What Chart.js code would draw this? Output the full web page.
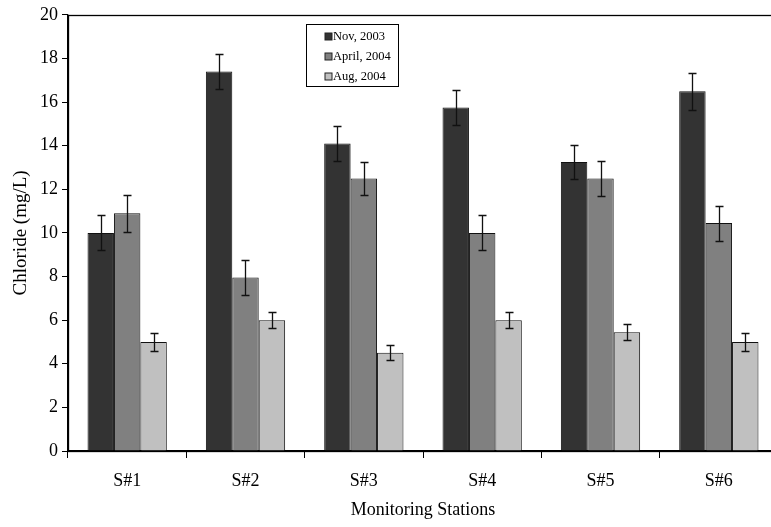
<!DOCTYPE html>
<html>
<head>
<meta charset="utf-8">
<script src="https://cdn.jsdelivr.net/npm/chart.js@4/dist/chart.umd.min.js"></script>
<style>
  html, body { margin: 0; padding: 0; background: #fff; overflow: hidden; }
  #wrap { position: relative; width: 790px; height: 527px; }
</style>
</head>
<body>
<div id="wrap"><canvas id="c" width="790" height="527"></canvas></div>
<script>
// Monitoring stations and sampling campaigns
const stations = ['S#1', 'S#2', 'S#3', 'S#4', 'S#5', 'S#6'];
const campaigns = ['Nov, 2003', 'April, 2004', 'Aug, 2004'];

// Mean chloride concentration (mg/L) per station
const nov2003 = [10.0, 17.4, 14.1, 15.75, 13.25, 16.5];
const apr2004 = [10.9, 7.95, 12.5, 10.0, 12.5, 10.45];
const aug2004 = [5.0, 6.0, 4.5, 6.0, 5.45, 5.0];

// Error bar half-widths (mg/L)
const nov2003Err = [0.8, 0.8, 0.8, 0.8, 0.8, 0.85];
const apr2004Err = [0.85, 0.8, 0.75, 0.8, 0.8, 0.8];
const aug2004Err = [0.4, 0.38, 0.35, 0.38, 0.37, 0.4];

// Y axis ticks
const yTicks = [0, 2, 4, 6, 8, 10, 12, 14, 16, 18, 20];

const fills = ['#333333', '#808080', '#c0c0c0'];
const serif = '"Liberation Serif", "Times New Roman", serif';

const errorBars = {
  id: 'errorBars',
  afterDatasetsDraw(chart) {
    const ctx = chart.ctx;
    const y = chart.scales.y;
    ctx.save();
    ctx.strokeStyle = '#111';
    ctx.lineWidth = 1.3;
    chart.data.datasets.forEach((ds, i) => {
      const meta = chart.getDatasetMeta(i);
      meta.data.forEach((bar, j) => {
        const v = ds.data[j], e = ds.errors[j];
        const yt = Math.round(y.getPixelForValue(v + e)) + 0.5;
        const yb = Math.round(y.getPixelForValue(v - e)) + 0.5;
        const x = Math.round(bar.x) + 0.5;
        ctx.beginPath();
        ctx.moveTo(x, yt); ctx.lineTo(x, yb);
        ctx.moveTo(x - 4, yt); ctx.lineTo(x + 4, yt);
        ctx.moveTo(x - 4, yb); ctx.lineTo(x + 4, yb);
        ctx.stroke();
      });
    });
    ctx.restore();
  }
};

const frame = {
  id: 'frame',
  afterDraw(chart) {
    const a = chart.chartArea, ctx = chart.ctx;
    ctx.save();
    ctx.strokeStyle = '#000';
    ctx.lineWidth = 1.3;
    ctx.strokeRect(Math.round(a.left) + 0.5, Math.round(a.top) + 0.5,
                   Math.round(a.right - a.left), Math.round(a.bottom - a.top));
    ctx.restore();
  }
};

const boxLegend = {
  id: 'boxLegend',
  afterDraw(chart) {
    const ctx = chart.ctx;
    const x0 = 306.5, y0 = 24.5, w = 92, h = 62;
    ctx.save();
    ctx.fillStyle = '#fff';
    ctx.fillRect(x0, y0, w, h);
    ctx.strokeStyle = '#000';
    ctx.lineWidth = 1;
    ctx.strokeRect(x0, y0, w, h);
    ctx.font = '12.5px ' + serif;
    ctx.textBaseline = 'middle';
    chart.data.datasets.forEach((ds, i) => {
      const cy = y0 + 12 + i * 20;
      ctx.fillStyle = ds.backgroundColor;
      ctx.fillRect(x0 + 18.5, cy - 3.5, 7, 7);
      ctx.strokeStyle = '#222';
      ctx.strokeRect(x0 + 18.5, cy - 3.5, 7, 7);
      ctx.fillStyle = '#000';
      ctx.fillText(ds.label, x0 + 26.5, cy + 0.5);
    });
    ctx.restore();
  }
};

new Chart(document.getElementById('c'), {
  type: 'bar',
  data: {
    labels: stations,
    datasets: [
      { label: campaigns[0], data: nov2003, errors: nov2003Err, backgroundColor: fills[0] },
      { label: campaigns[1], data: apr2004, errors: apr2004Err, backgroundColor: fills[1] },
      { label: campaigns[2], data: aug2004, errors: aug2004Err, backgroundColor: fills[2] }
    ].map(d => Object.assign(d, {
      borderColor: '#111', borderWidth: 1, categoryPercentage: 0.67, barPercentage: 1.0
    }))
  },
  options: {
    responsive: false,
    animation: false,
    devicePixelRatio: 1,
    layout: { padding: { top: 12, right: 12, left: 0, bottom: 0 } },
    plugins: { legend: { display: false }, tooltip: { enabled: false } },
    scales: {
      x: {
        offset: true,
        grid: { offset: true, drawOnChartArea: false, drawTicks: true, tickLength: 7, color: '#000', lineWidth: 1 },
        border: { color: '#000', width: 1.3 },
        ticks: { color: '#000', font: { family: serif, size: 18 }, padding: 12 },
        title: { display: true, text: 'Monitoring Stations', color: '#000',
                 font: { family: serif, size: 18 }, padding: { top: 4, bottom: 6 } },
        afterFit(s) { s.height = 76; }
      },
      y: {
        min: 0, max: 20,
        afterBuildTicks(s) { s.ticks = yTicks.map(v => ({ value: v })); },
        grid: { drawOnChartArea: false, drawTicks: true, tickLength: 6, color: '#000', lineWidth: 1 },
        border: { color: '#000', width: 1.3 },
        ticks: { color: '#000', font: { family: serif, size: 18 }, padding: 4 },
        title: { display: true, text: 'Chloride (mg/L)', color: '#000',
                 font: { family: serif, size: 19 }, padding: { top: 10, bottom: 4 } },
        afterFit(s) { s.width = 68; }
      }
    }
  },
  plugins: [errorBars, frame, boxLegend]
});
</script>
</body>
</html>
